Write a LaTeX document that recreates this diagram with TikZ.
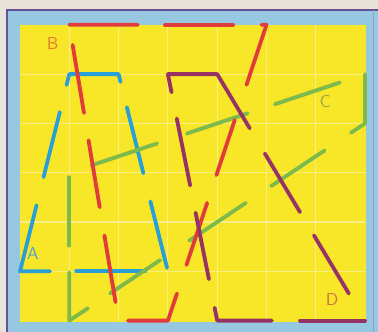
\documentclass[tikz,border=0pt]{standalone}
\usetikzlibrary{calc}
\definecolor{paper}{RGB}{232,228,218}
\definecolor{boardblue}{RGB}{150,200,225}
\definecolor{framepurple}{RGB}{105,80,150}
\definecolor{boardyellow}{RGB}{248,230,40}
\definecolor{gridline}{RGB}{250,238,135}
\definecolor{lineA}{RGB}{40,160,215}
\definecolor{lineB}{RGB}{225,60,60}
\definecolor{lineC}{RGB}{125,185,75}
\definecolor{lineD}{RGB}{150,50,100}
\definecolor{textA}{RGB}{80,160,210}
\definecolor{textB}{RGB}{230,120,50}
\definecolor{textC}{RGB}{160,170,70}
\definecolor{textD}{RGB}{200,120,55}
\begin{document}
\begin{tikzpicture}[x=1cm,y=1cm,
  seg/.style={line width=2.2pt,line cap=round,line join=round},
  lbl/.style={inner sep=0pt,font=\fontsize{10}{12}\selectfont\sffamily}]
\useasboundingbox (-0.406,-0.224) rectangle (7.262,6.504);
% paper and board
\fill[paper] (-0.406,-0.224) rectangle (7.262,6.504);
\fill[boardblue] (-0.245,-0.3) rectangle (7.3,6.285);
\draw[framepurple,line width=1.3pt] (-0.264,-0.3) -- (-0.264,6.30) -- (7.3,6.30);
\draw[framepurple!30!boardblue,line width=0.9pt] (7.17,6.30) -- (7.17,-0.3);
\fill[boardyellow] (0,-0.02) rectangle (7.02,6);
% grid
\foreach \i in {1,...,6} \draw[gridline,line width=0.6pt] (\i,0) -- (\i,6);
\foreach \j in {1,...,5} \draw[gridline,line width=0.6pt] (0,\j) -- (7,\j);
% corners of the four figures
\coordinate (A1) at (0,1); \coordinate (A2) at (1,5); \coordinate (A3) at (2,5); \coordinate (A4) at (3,1);
\coordinate (B1) at (1,6); \coordinate (B2) at (5,6); \coordinate (B3) at (3,0); \coordinate (B4) at (2,0);
\coordinate (C1) at (1,0); \coordinate (C2) at (1,3); \coordinate (C3) at (7,5); \coordinate (C4) at (7,4);
\coordinate (D1) at (3,5); \coordinate (D2) at (4,5); \coordinate (D3) at (7,0); \coordinate (D4) at (4,0);
% figure A (blue)
\begin{scope}[seg,lineA]
\draw ($(A1)!0.945!(A2)$) -- (A2) -- (A3) -- ($(A3)!0.04!(A4)$);
\draw ($(A1)!0.8075!(A2)$) -- ($(A1)!0.4775!(A2)$);
\draw ($(A1)!0.335!(A2)$) -- (A1) -- ($(A1)!0.203!(A4)$);
\draw ($(A1)!0.38!(A4)$) -- ($(A1)!0.847!(A4)$);
\draw ($(A3)!0.1675!(A4)$) -- ($(A3)!0.5025!(A4)$);
\draw ($(A3)!0.645!(A4)$) -- ($(A3)!0.9825!(A4)$);
\end{scope}
% figure C (green)
\begin{scope}[seg,lineC]
\draw ($(C2)!0.075!(C3)$) -- ($(C2)!0.297!(C3)$);
\draw ($(C2)!0.397!(C3)$) -- ($(C2)!0.603!(C3)$);
\draw ($(C2)!0.695!(C3)$) -- ($(C2)!0.915!(C3)$);
\draw (C3) -- (C4) -- ($(C4)!0.048!(C1)$);
\draw ($(C4)!0.137!(C1)$) -- ($(C4)!0.318!(C1)$);
\draw ($(C4)!0.403!(C1)$) -- ($(C4)!0.595!(C1)$);
\draw ($(C4)!0.693!(C1)$) -- ($(C4)!0.862!(C1)$);
\draw ($(C4)!0.937!(C1)$) -- (C1) -- ($(C1)!0.327!(C2)$);
\draw ($(C1)!0.507!(C2)$) -- ($(C1)!0.97!(C2)$);
\end{scope}
% figure B (red)
\begin{scope}[seg,lineB]
\draw (B1) -- ($(B1)!0.3475!(B2)$);
\draw ($(B1)!0.485!(B2)$) -- ($(B1)!0.83!(B2)$);
\draw ($(B1)!0.975!(B2)$) -- (B2) -- ($(B2)!0.203!(B3)$);
\draw ($(B2)!0.322!(B3)$) -- ($(B2)!0.508!(B3)$);
\draw ($(B2)!0.602!(B3)$) -- ($(B2)!0.812!(B3)$);
\draw ($(B2)!0.908!(B3)$) -- (B3) -- ($(B3)!0.81!(B4)$);
\draw ($(B1)!0.068!(B4)$) -- ($(B1)!0.298!(B4)$);
\draw ($(B1)!0.39!(B4)$) -- ($(B1)!0.617!(B4)$);
\draw ($(B1)!0.712!(B4)$) -- ($(B1)!0.938!(B4)$);
\end{scope}
% figure D (purple)
\begin{scope}[seg,lineD]
\draw ($(D1)!0.074!(D4)$) -- (D1) -- (D2) -- ($(D2)!0.22!(D3)$);
\draw ($(D2)!0.322!(D3)$) -- ($(D2)!0.56!(D3)$);
\draw ($(D2)!0.654!(D3)$) -- ($(D2)!0.89!(D3)$);
\draw ($(D1)!0.18!(D4)$) -- ($(D1)!0.452!(D4)$);
\draw ($(D1)!0.562!(D4)$) -- ($(D1)!0.832!(D4)$);
\draw ($(D4)!0.052!(D1)$) -- (D4) -- ($(D4)!0.37!(D3)$);
\draw ($(D4)!0.56!(D3)$) -- (D3);
\end{scope}
% labels
\node[lbl,text=textA] (labA) at (0.26,1.36) {A};
\node[lbl,text=textB] (labB) at (0.66,5.63) {B};
\node[lbl,text=textC] (labC) at (6.19,4.44) {C};
\node[lbl,text=textD] (labD) at (6.33,0.42) {D};
\end{tikzpicture}
\end{document}
